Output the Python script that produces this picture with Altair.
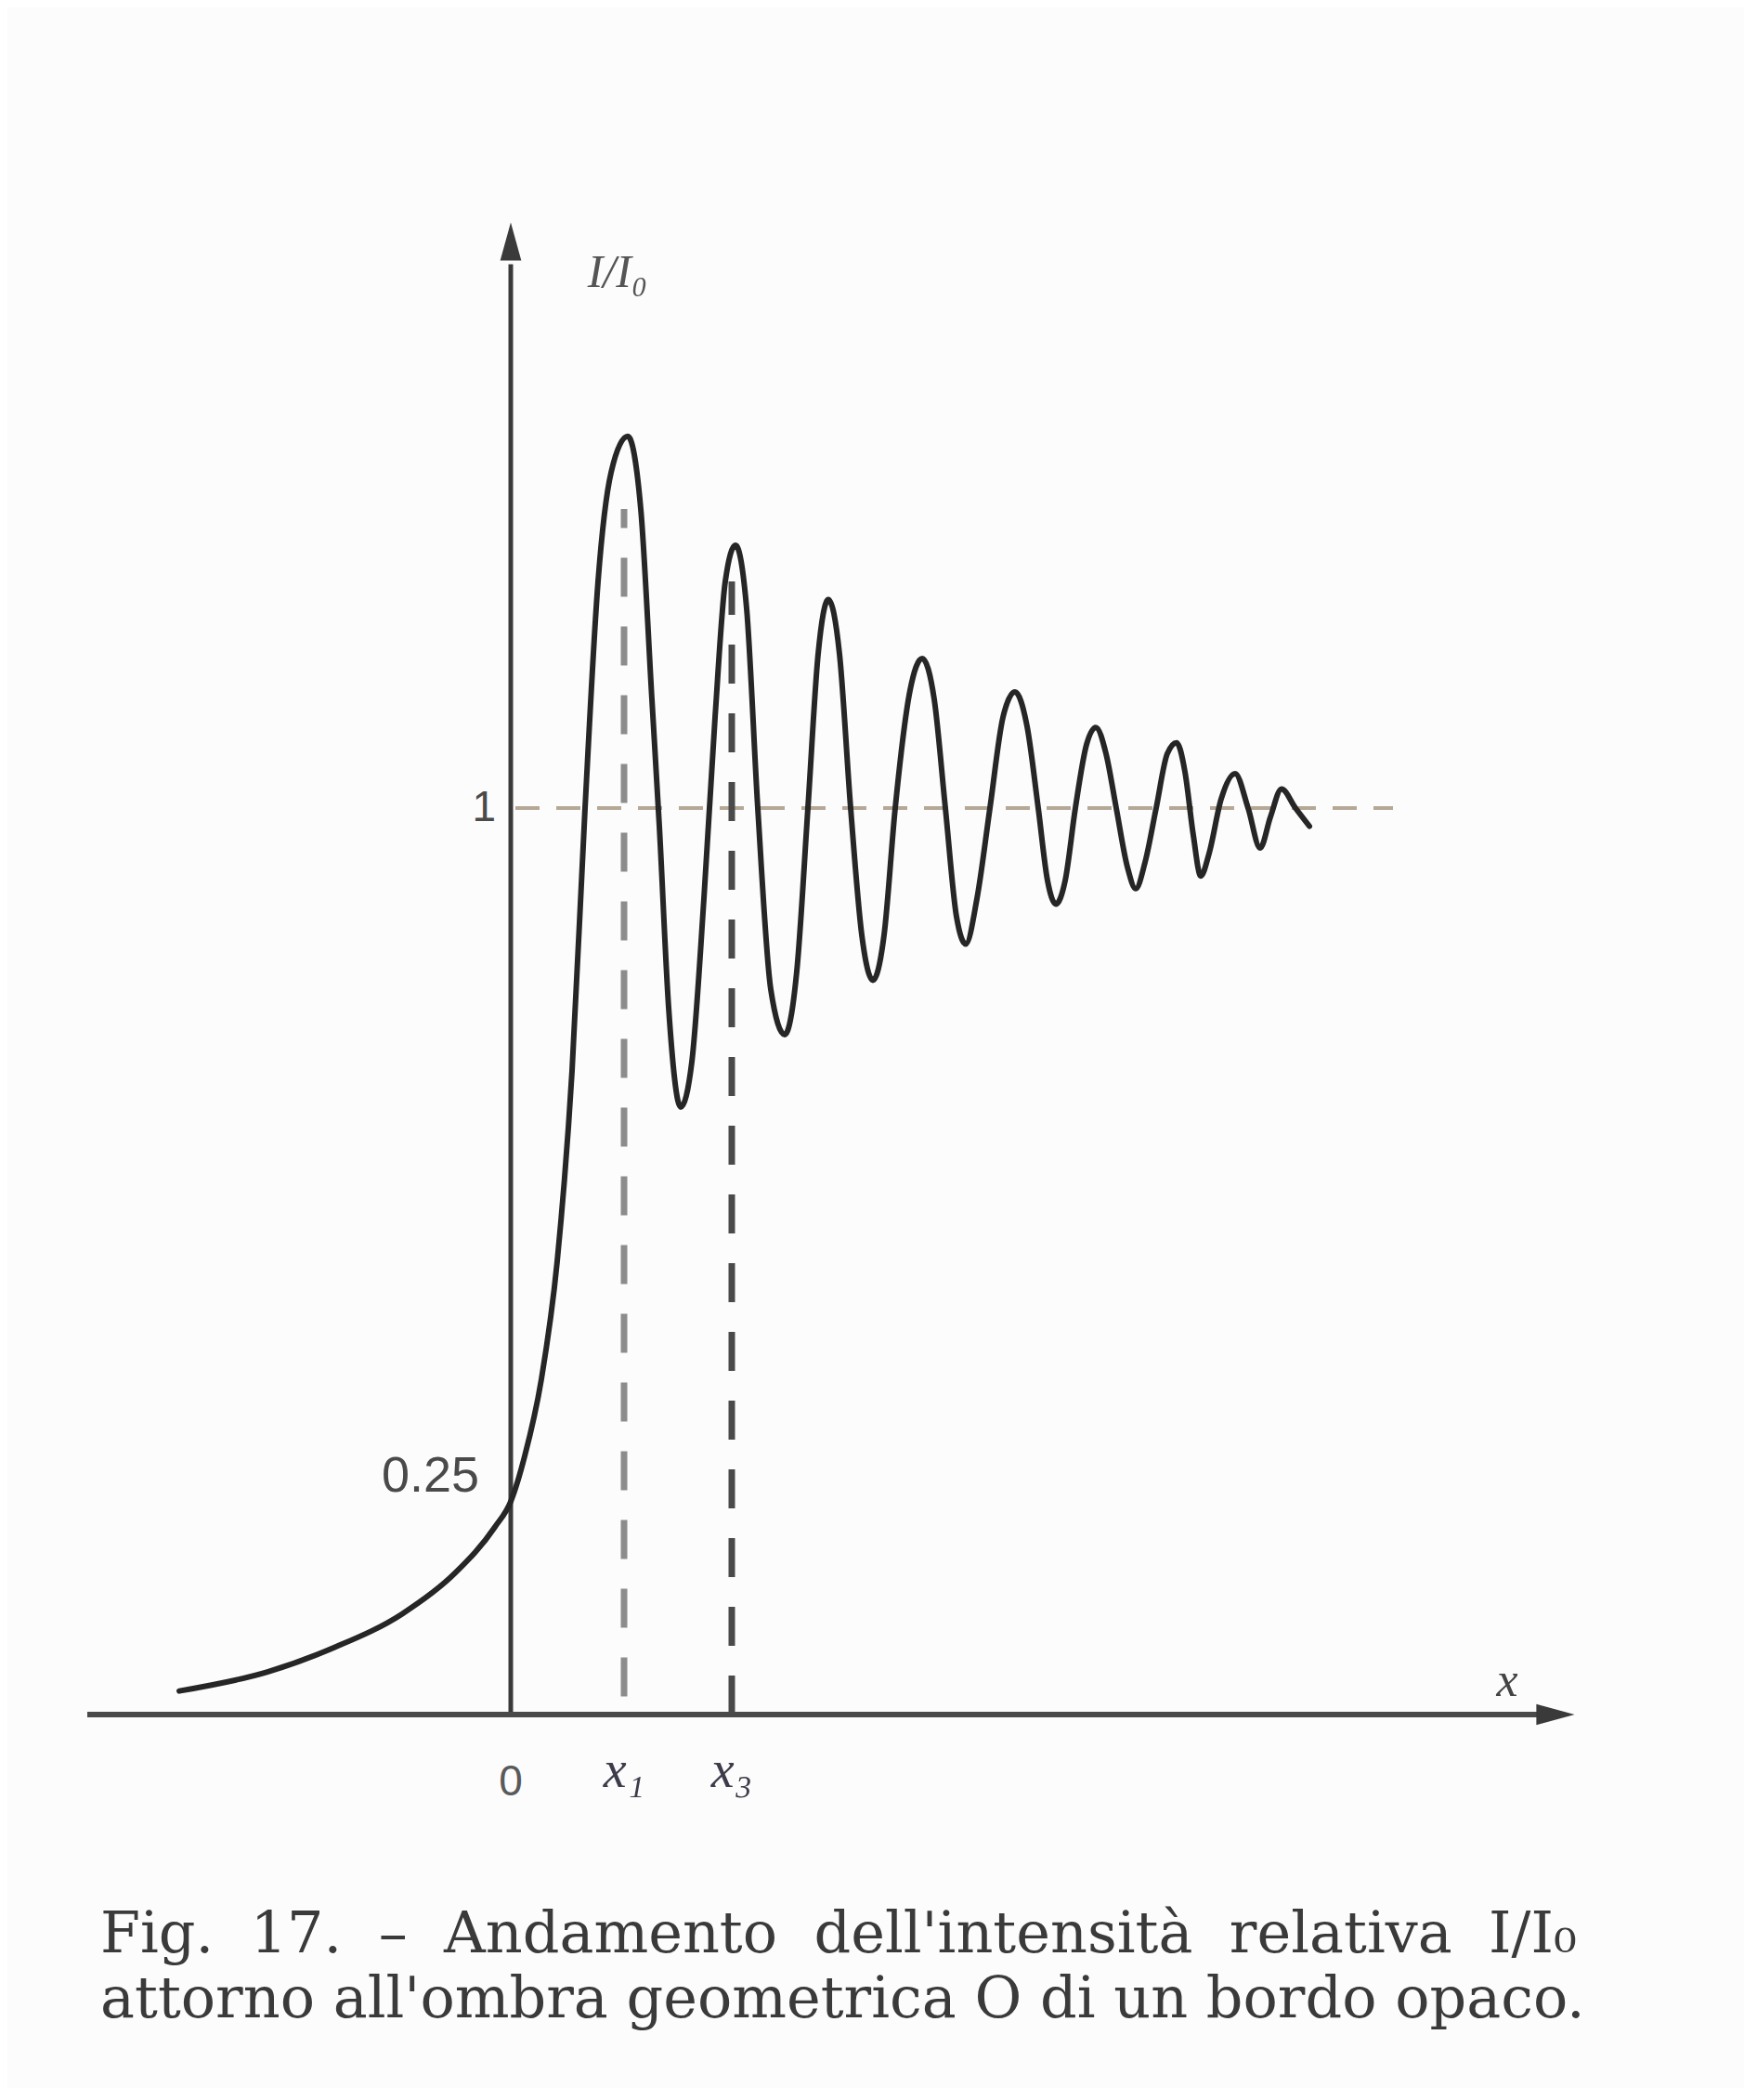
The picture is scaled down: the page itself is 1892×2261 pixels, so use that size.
import altair as alt
import pandas as pd

# ---- data (x in arbitrary units, origin at the edge O; I/I0) ----
curve_x = [-3.57, -2.62, -1.90, -1.17, -0.60, -0.17, 0.00, 0.15, 0.33, 0.50, 0.66,
           0.80, 0.94, 1.08, 1.26, 1.40, 1.52, 1.60, 1.70, 1.83, 1.95, 2.08, 2.20,
           2.31, 2.42, 2.54, 2.66, 2.80, 2.95, 3.08, 3.20, 3.31, 3.42, 3.54, 3.66,
           3.78, 3.90, 4.02, 4.14, 4.30, 4.43, 4.56, 4.68, 4.80, 4.90, 5.02, 5.16,
           5.30, 5.43, 5.56, 5.68, 5.78, 5.87, 5.97, 6.08, 6.20, 6.30, 6.41, 6.52,
           6.64, 6.73, 6.83, 6.95, 7.07, 7.17, 7.26, 7.35, 7.43, 7.52, 7.65, 7.80,
           7.94, 8.07, 8.18, 8.30, 8.45, 8.60]
curve_i = [0.026, 0.047, 0.074, 0.111, 0.156, 0.207, 0.235, 0.285, 0.37, 0.50, 0.71,
           1.00, 1.25, 1.37, 1.41, 1.33, 1.12, 0.98, 0.78, 0.67, 0.72, 0.90, 1.10,
           1.25, 1.29, 1.22, 1.00, 0.80, 0.75, 0.82, 1.00, 1.17, 1.23, 1.17, 1.00,
           0.86, 0.81, 0.86, 1.00, 1.13, 1.165, 1.12, 1.00, 0.88, 0.85, 0.90, 1.00,
           1.10, 1.128, 1.09, 1.00, 0.92, 0.894, 0.92, 1.00, 1.07, 1.089, 1.06, 1.00,
           0.935, 0.911, 0.94, 1.00, 1.06, 1.072, 1.04, 0.97, 0.925, 0.95, 1.01, 1.038,
           1.00, 0.956, 0.99, 1.021, 1.00, 0.98]

tick_pos = [0.0, 1.22, 2.38]
tick_text = ["0", "x\u2081", "x\u2083"]
dash_top = [1.33, 1.25]          # tops of the dashed verticals at x1, x3
level_vals = [1.0, 0.25]
level_text = ["1", "0.25"]
y_label = "I/I\u2080"
x_label = "x"
caption = ["Fig. 17. \u2013 Andamento dell'intensit\u00e0 relativa I/I\u2080",
           "attorno all'ombra geometrica O di un bordo opaco."]

# ---- scales ----
xs = alt.Scale(domain=[-5.42, 13.28], nice=False, zero=False)
ys = alt.Scale(domain=[-0.4119, 1.8832], nice=False, zero=False)


def X(f="x"):
    return alt.X(f"{f}:Q", scale=xs, axis=None)


def Y(f="y"):
    return alt.Y(f"{f}:Q", scale=ys, axis=None)


AX = "#3a3a3a"

# axes
yaxis = alt.Chart(pd.DataFrame({"x": [0.0], "y": [0.0], "y2": [1.60]})).mark_rule(
    color=AX, strokeWidth=5).encode(x=X(), y=Y(), y2="y2:Q")
xaxis = alt.Chart(pd.DataFrame({"x": [-4.56], "x2": [11.10], "y": [0.0]})).mark_rule(
    color="#4a4a4a", strokeWidth=6).encode(x=X(), x2="x2:Q", y=Y())
arrow_up = alt.Chart(pd.DataFrame({"x": [0.0], "y": [1.625]})).mark_point(
    shape="M0,-1 L0.55,1 L-0.55,1 Z", filled=True, size=1700, color=AX, opacity=1
).encode(x=X(), y=Y())
arrow_right = alt.Chart(pd.DataFrame({"x": [11.25], "y": [0.0]})).mark_point(
    shape="M1,0 L-1,-0.55 L-1,0.55 Z", filled=True, size=1700, color=AX, opacity=1
).encode(x=X(), y=Y())

# dashed level I = 1
level = alt.Chart(pd.DataFrame({"x": [0.05], "x2": [9.50], "y": [1.0]})).mark_rule(
    color="#b5a896", strokeWidth=4, strokeDash=[26, 18]).encode(x=X(), x2="x2:Q", y=Y())

# dashed verticals at x1, x3
vdf = pd.DataFrame({"x": tick_pos[1:], "y": [0.02, 0.0], "y2": dash_top,
                    "c": ["a", "b"]})
vdash = alt.Chart(vdf).mark_rule(strokeWidth=7, strokeDash=[42, 32]).encode(
    x=X(), y=Y(), y2="y2:Q",
    color=alt.Color("c:N", scale=alt.Scale(domain=["a", "b"], range=["#8c8c8c", "#4a4a4a"]),
                    legend=None))

# curve
curve = alt.Chart(pd.DataFrame({"x": curve_x, "y": curve_i})).mark_line(
    color="#262626", strokeWidth=6, interpolate="monotone", strokeCap="round",
    strokeJoin="round").encode(x=X(), y=Y(), order="x:Q")

# tick labels under the x axis
t0 = alt.Chart(pd.DataFrame({"x": [tick_pos[0]], "y": [-0.075], "t": [tick_text[0]]})).mark_text(
    font="Liberation Sans", fontSize=46, color="#5a5a5a", align="center", baseline="middle"
).encode(x=X(), y=Y(), text="t:N")
txs = alt.Chart(pd.DataFrame({"x": tick_pos[1:], "y": [-0.062, -0.062], "t": tick_text[1:]})).mark_text(
    font="Liberation Serif", fontStyle="italic", fontSize=56, color="#3c3c4a",
    align="center", baseline="middle"
).encode(x=X(), y=Y(), text="t:N")

# level labels left of the y axis
lv = alt.Chart(pd.DataFrame({"x": [-0.16, -0.34], "y": [1.0, 0.262], "t": level_text,
                             "s": [46, 54]})).mark_text(
    font="Liberation Sans", color="#4a4a4a", align="right", baseline="middle"
).encode(x=X(), y=Y(), text="t:N", size=alt.Size("s:Q", scale=None, legend=None))

# axis names
ylab = alt.Chart(pd.DataFrame({"x": [1.15], "y": [1.59], "t": [y_label]})).mark_text(
    font="Liberation Serif", fontStyle="italic", fontSize=50, color="#555555",
    align="center", baseline="middle"
).encode(x=X(), y=Y(), text="t:N")
xlab = alt.Chart(pd.DataFrame({"x": [10.73], "y": [0.037], "t": [x_label]})).mark_text(
    font="Liberation Serif", fontStyle="italic", fontSize=52, color="#444444",
    align="center", baseline="middle"
).encode(x=X(), y=Y(), text="t:N")

# caption (first line justified with wider word spaces, as in the print)
cap_lines = [caption[0].replace(" ", "\u00a0\u00a0"), caption[1]]
cap = alt.Chart(pd.DataFrame({"x": [-4.42, -4.42], "y": [-0.262, -0.334], "t": cap_lines})).mark_text(
    font="DejaVu Serif", fontSize=62, color="#3a3a3a", align="left", baseline="alphabetic"
).encode(x=X(), y=Y(), text="t:N")

chart = alt.layer(
    level, vdash, yaxis, xaxis, arrow_up, arrow_right, curve,
    t0, txs, lv, ylab, xlab, cap
).properties(
    width=1870, height=2240, padding=0,
    autosize=alt.AutoSizeParams(type="none"),
    background="#fcfcfc"
).configure_view(stroke=None)

chart.save("out.html", embed_options={"renderer": "svg", "actions": False})
